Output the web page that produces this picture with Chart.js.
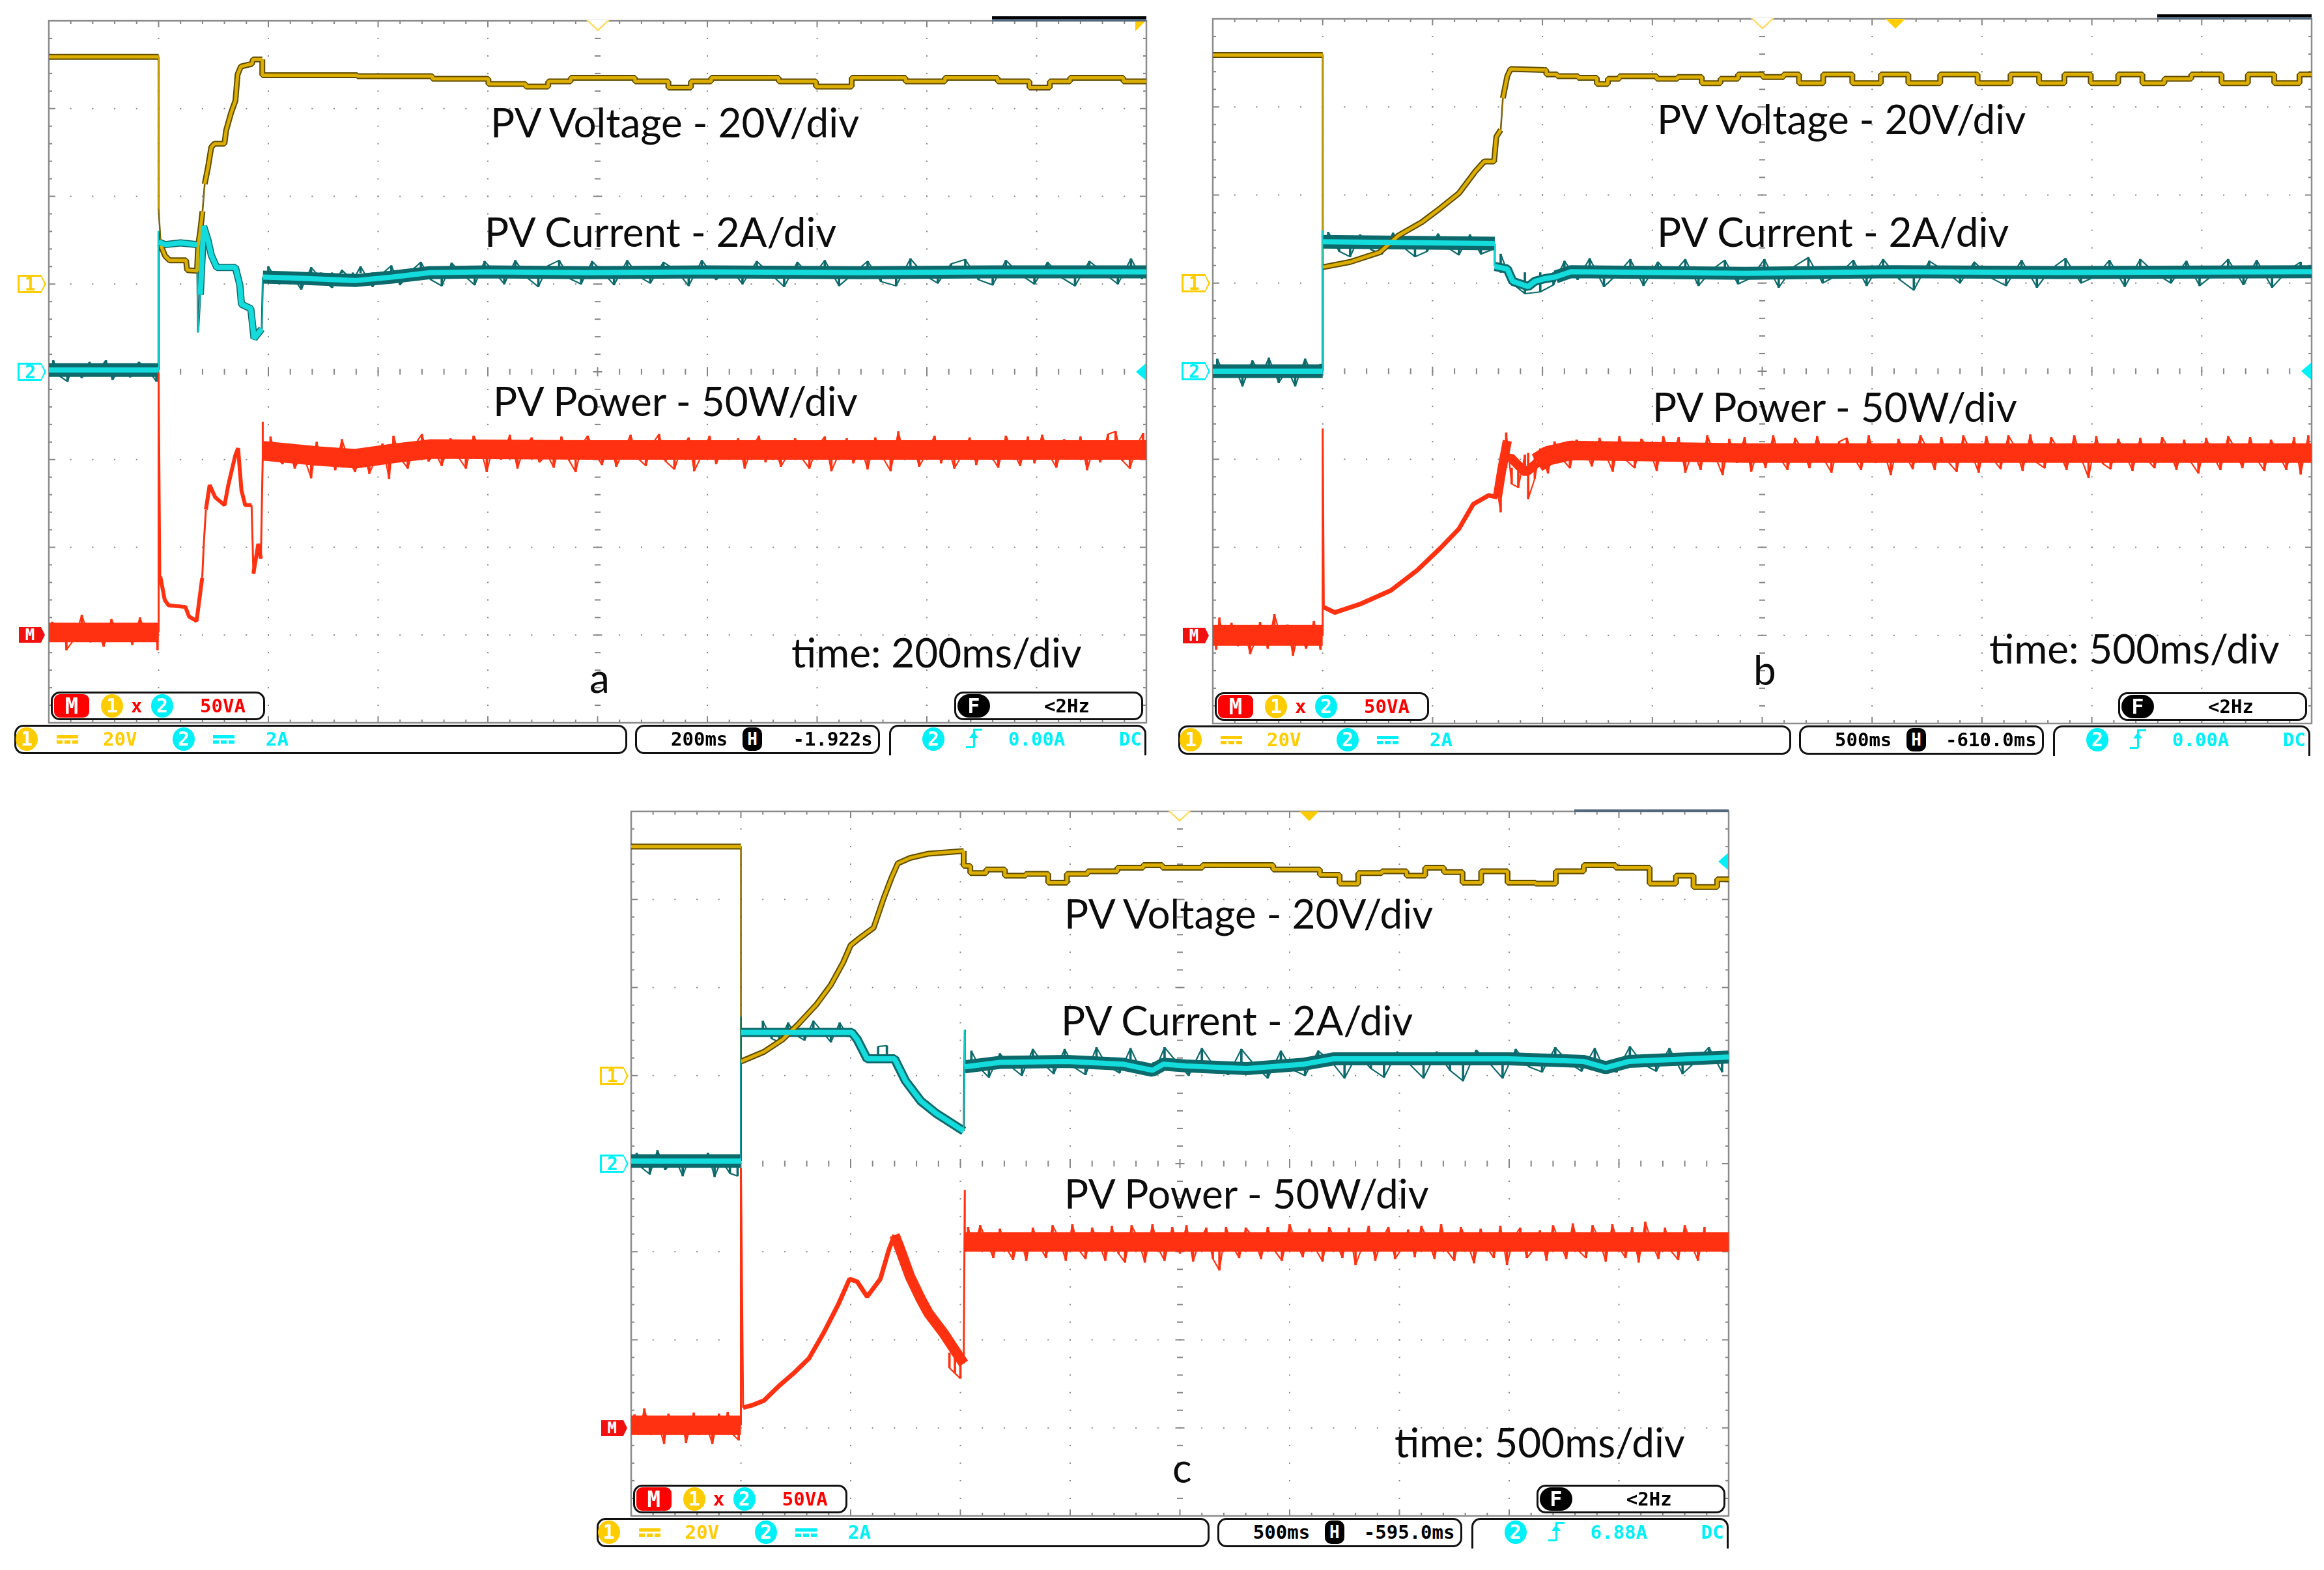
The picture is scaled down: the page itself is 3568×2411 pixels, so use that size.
<!DOCTYPE html>
<html>
<head>
<meta charset="utf-8">
<title>PV start-up waveforms</title>
<script src="https://cdn.jsdelivr.net/npm/chart.js@4/dist/chart.umd.min.js"></script>
<style>
  html, body { margin: 0; background: #fff; }
  #page { position: relative; width: 3568px; height: 2411px; overflow: hidden; background: #fff; }
  canvas { position: absolute; }
  .note { position: absolute; white-space: nowrap; font-family: Lato, sans-serif; font-size: 62px; color: #0c0c0c; transform: translateY(calc(-50% - 2px)); line-height: 1; }
  .scope { position: absolute; white-space: nowrap; font-family: "DejaVu Sans Mono", monospace; font-weight: bold; font-size: 29px; line-height: 1; transform: translateY(-50%); }
  .box { position: absolute; box-sizing: border-box; border: 3px solid #111; border-radius: 14px; background: #fff; }
  .dot { position: absolute; border-radius: 50%; color: #fff; text-align: center; font-family: "DejaVu Sans Mono", monospace; font-weight: bold; font-size: 30px; }
  .tag { position: absolute; box-sizing: border-box; font-family: "DejaVu Sans Mono", monospace; font-weight: bold; font-size: 28px; text-align: center; }
</style>
</head>
<body>
<div id="page"></div>
<script>
// Every trace is in scope divisions: x 0..10 left to right, y 0..8 bottom to top.

// ---- panel a (200ms/div) ----
const aVoltX = [0,1,1,1.02,1.06,1.10,1.25,1.26,1.35,1.36,1.38,1.40,1.42,1.45,1.48,1.51,1.60,1.615,1.66,1.70,1.72,1.75,1.85,1.86,1.945,1.945,2.45,3.17,3.82,4.19,4.5,4.6,4.91,5.19,5.49,5.8,5.9,6.17,6.48,6.82,7.16,7.47,7.77,7.84,8.49,8.8,9.07,9.17,9.44,9.78,9.8,10];
const aVoltY = [7.59,7.59,5.86,5.44,5.32,5.27,5.27,5.16,5.15,5.44,5.61,5.83,6.14,6.33,6.56,6.60,6.60,6.75,6.95,7.09,7.39,7.48,7.51,7.56,7.56,7.38,7.38,7.37,7.34,7.28,7.25,7.31,7.35,7.35,7.31,7.24,7.31,7.35,7.35,7.31,7.25,7.35,7.35,7.31,7.35,7.31,7.24,7.31,7.35,7.35,7.31,7.31];
const aCurrX = [0,1,1,1,1.06,1.20,1.35,1.36,1.38,1.41,1.45,1.48,1.53,1.70,1.74,1.755,1.84,1.87,1.94,1.95,2.2,2.79,3.13,3.47,3.99,4.9,6,7.4,8.6,10];
const aCurrY = [4.02,4.02,5.6,5.48,5.45,5.47,5.45,4.45,4.88,5.66,5.5,5.33,5.19,5.19,4.99,4.77,4.72,4.38,4.49,5.08,5.07,5.04,5.08,5.13,5.14,5.13,5.14,5.13,5.14,5.14];
const aPowerX = [0,1,1,1.015,1.056,1.09,1.244,1.278,1.346,1.373,1.397,1.414,1.431,1.465,1.516,1.601,1.635,1.697,1.724,1.755,1.789,1.847,1.864,1.908,1.932,1.949,1.949,1.949,2.453,2.794,3.134,3.475,4.9,10];
const aPowerY = [1.03,1.03,3.99,1.67,1.40,1.34,1.32,1.21,1.16,1.42,1.65,2.09,2.43,2.71,2.57,2.48,2.71,3.04,3.13,2.65,2.48,2.48,1.70,2.04,1.87,3.04,3.43,3.10,3.04,3.01,3.07,3.12,3.11,3.11];
const aPowerSpikeX = [0.03,0.09,0.14,0.16,0.24,0.3,0.38,0.44,0.5,0.57,0.63,0.7,0.76,0.83,0.9,0.97,0.99,2.02,2.07,2.13,2.18,2.24,2.31,2.39,2.44,2.49,2.56,2.61,2.67,2.73,2.79,2.86,2.92,2.98,3.04,3.1,3.14,3.2,3.27,3.33,3.4,3.46,3.52,3.58,3.66,3.72,3.8,3.87,3.94,3.99,4.06,4.12,4.2,4.27,4.33,4.4,4.47,4.54,4.6,4.67,4.74,4.8,4.86,4.91,4.99,5.04,5.11,5.17,5.23,5.3,5.37,5.44,5.49,5.56,5.62,5.7,5.76,5.83,5.88,5.95,6.02,6.08,6.15,6.21,6.28,6.34,6.4,6.47,6.53,6.6,6.67,6.73,6.8,6.87,6.93,7.0,7.07,7.13,7.2,7.27,7.33,7.4,7.46,7.53,7.6,7.67,7.74,7.8,7.87,7.93,8.0,8.07,8.13,8.19,8.25,8.32,8.39,8.45,8.52,8.58,8.65,8.72,8.78,8.85,8.92,8.98,9.05,9.12,9.18,9.25,9.34,9.4,9.46,9.52,9.58,9.65,9.72,9.78,9.85,9.92,9.97];
const aPowerSpikeTip = [1.15,0.93,1.09,0.83,0.97,1.23,0.92,1.06,0.87,1.18,1.01,1.12,0.89,1.2,0.95,1.08,0.83,3.26,3.02,2.95,3.15,2.9,3.08,2.79,3.2,2.96,3.06,2.88,3.23,3.0,2.86,3.12,2.84,3.01,3.18,2.78,3.27,3.02,2.9,3.16,3.29,2.98,3.08,2.93,3.24,3.05,2.9,3.27,3.1,2.86,3.22,3.0,3.28,2.9,3.14,3.25,2.97,3.06,2.91,3.26,2.99,2.86,3.18,3.27,3.04,2.94,3.21,2.92,3.08,3.28,3.01,2.93,3.16,3.29,2.98,2.89,3.12,3.25,2.87,3.05,3.27,2.95,3.17,3.03,3.24,2.9,3.11,3.27,2.97,3.2,2.92,3.05,3.24,3.0,2.9,3.15,3.26,2.87,3.07,3.24,2.96,3.14,2.89,3.25,3.02,2.87,3.32,3.0,3.2,2.92,3.08,3.27,2.96,3.16,2.9,3.05,3.25,2.94,3.19,3.05,2.91,3.27,3.11,2.93,3.26,2.96,3.28,3.04,2.91,3.23,3.01,3.26,2.88,3.14,2.97,3.29,3.32,2.99,2.9,3.18,3.3,2.95,3.27];

const aCurrSpikeX = [0.04,0.1,0.17,0.22,0.3,0.37,0.44,0.52,0.58,0.66,0.74,0.82,0.9,0.98,2.0,2.1,2.2,2.3,2.39,2.48,2.58,2.67,2.77,2.84,2.95,3.03,3.12,3.2,3.3,3.39,3.48,3.58,3.67,3.78,3.88,3.97,4.06,4.15,4.25,4.35,4.46,4.55,4.65,4.75,4.85,4.95,5.05,5.15,5.27,5.37,5.48,5.6,5.72,5.83,5.95,6.08,6.2,6.32,6.45,6.58,6.7,6.82,6.95,7.07,7.2,7.33,7.46,7.58,7.72,7.85,7.98,8.1,8.22,8.35,8.47,8.6,8.72,8.85,8.98,9.1,9.22,9.35,9.48,9.6,9.74,9.86,9.96];
const aCurrSpikeTip = [4.13,3.95,3.89,4.08,3.93,4.11,4.0,4.13,3.91,4.05,3.94,4.11,4.03,3.89,5.2,5.0,5.12,4.94,5.19,5.06,4.96,5.16,5.04,5.2,4.97,5.11,5.21,4.99,5.15,5.25,5.05,4.98,5.24,5.1,4.99,5.26,5.14,5.0,5.27,5.08,4.97,5.21,5.27,5.06,5.0,5.26,5.13,4.99,5.27,5.09,5.01,5.25,5.15,4.98,5.27,5.05,5.2,5.0,5.26,5.11,4.97,5.25,5.07,5.27,4.98,5.12,5.26,5.03,4.98,5.29,5.1,5.01,5.23,5.28,5.05,4.99,5.27,5.11,5.0,5.25,5.08,4.98,5.26,5.14,5.0,5.29,5.06,5.28,4.99];

// ---- panel b (500ms/div) ----
const bVoltX = [0,1,1,1.25,1.52,1.69,1.90,2.07,2.24,2.39,2.47,2.56,2.58,2.62,2.64,2.68,2.71,3.02,3.05,3.22,3.43,3.56,3.63,3.77,3.97,4.11,4.35,4.55,4.69,4.87,5.14,5.25,5.42,5.69,5.95,6.21,6.45,6.79,7.13,7.39,7.65,7.85,8.13,8.35,8.57,8.75,9.06,9.30,9.54,9.78,10];
const bVoltY = [7.59,7.59,5.18,5.24,5.35,5.54,5.69,5.85,6.02,6.27,6.38,6.38,6.66,6.74,7.10,7.35,7.43,7.42,7.37,7.35,7.33,7.26,7.32,7.35,7.35,7.32,7.34,7.27,7.32,7.37,7.34,7.37,7.27,7.37,7.27,7.37,7.27,7.37,7.27,7.37,7.27,7.37,7.27,7.37,7.27,7.32,7.37,7.27,7.37,7.27,7.37];
const bCurrX = [0,1,1,1,2.566,2.566,2.68,2.73,2.87,2.93,3.02,3.12,3.26,4.85,6.2,7.7,10];
const bCurrY = [4.0,4.0,5.6,5.47,5.45,5.19,5.16,5.02,4.96,5.02,5.05,5.07,5.13,5.11,5.13,5.12,5.13];
const bPowerX = [0,1,1,1.01,1.11,1.35,1.62,1.86,2.07,2.24,2.37,2.51,2.59,2.63,2.68,2.68,2.71,2.78,2.85,2.95,3.05,3.26,4.85,10];
const bPowerY = [1.0,1.0,3.35,1.32,1.26,1.36,1.51,1.74,1.99,2.21,2.49,2.59,2.57,2.88,3.21,3.0,3.02,2.93,2.85,2.96,3.04,3.10,3.07,3.07];
const bPowerSpikeX = [0.03,0.06,0.1,0.17,0.23,0.29,0.34,0.39,0.43,0.5,0.56,0.62,0.68,0.73,0.78,0.85,0.92,0.98,2.58,2.62,2.67,2.72,2.78,2.84,2.87,2.93,2.98,3.05,3.11,3.18,3.25,3.31,3.38,3.45,3.52,3.58,3.64,3.7,3.77,3.84,3.9,3.97,4.04,4.1,4.17,4.24,4.3,4.37,4.44,4.5,4.57,4.64,4.7,4.77,4.84,4.9,4.97,5.03,5.1,5.16,5.23,5.3,5.37,5.43,5.5,5.57,5.63,5.7,5.77,5.83,5.9,5.97,6.03,6.1,6.17,6.24,6.3,6.37,6.44,6.5,6.57,6.63,6.7,6.77,6.83,6.9,6.97,7.04,7.1,7.17,7.24,7.3,7.37,7.44,7.5,7.57,7.63,7.7,7.77,7.84,7.9,7.97,8.04,8.1,8.17,8.24,8.3,8.37,8.44,8.5,8.57,8.64,8.7,8.77,8.84,8.9,8.97,9.04,9.1,9.17,9.24,9.3,9.37,9.44,9.5,9.57,9.63,9.7,9.77,9.84,9.9,9.97];
const bPowerSpikeTip = [0.84,1.2,0.92,1.14,0.88,1.06,0.79,0.95,1.15,0.85,1.24,0.98,1.12,0.77,1.04,0.85,1.16,0.84,2.72,2.4,3.3,2.72,2.68,3.05,2.55,2.78,3.12,2.84,3.2,3.0,2.9,3.22,3.12,2.92,3.24,3.04,2.86,3.26,2.98,2.9,3.23,3.12,2.87,3.26,3.0,3.25,2.85,3.1,2.88,3.27,3.04,2.82,3.23,2.96,3.25,2.86,3.14,2.9,3.27,3.02,2.88,3.24,3.1,2.9,3.26,2.98,2.85,3.2,3.24,3.03,2.88,3.27,2.96,3.13,2.82,3.23,3.05,2.89,3.27,3.12,2.88,3.25,2.96,2.86,3.27,3.08,2.85,3.26,3.0,2.89,3.27,3.14,2.87,3.28,2.96,2.9,3.25,3.1,2.88,3.27,3.02,2.79,3.26,2.95,2.89,3.23,3.07,2.87,3.24,3.0,2.9,3.25,3.12,2.88,3.22,2.97,2.84,3.24,3.05,2.88,3.26,3.13,2.9,3.25,3.0,2.87,3.22,3.06,2.88,3.25,2.83,3.27,3.1,2.89,3.24,2.97,2.88,3.26];

const bCurrSpikeX = [0.04,0.11,0.2,0.27,0.36,0.44,0.51,0.6,0.68,0.75,0.84,0.92,0.98,1.05,1.15,1.25,1.34,1.44,1.54,1.64,1.72,1.84,1.95,2.05,2.14,2.24,2.34,2.44,2.54,2.62,2.72,2.84,2.98,3.1,3.2,3.32,3.43,3.56,3.68,3.8,3.92,4.05,4.17,4.3,4.42,4.55,4.66,4.78,4.9,5.02,5.15,5.28,5.42,5.55,5.7,5.83,5.95,6.1,6.25,6.38,6.52,6.67,6.8,6.93,7.08,7.22,7.36,7.5,7.62,7.76,7.9,8.04,8.16,8.3,8.44,8.58,8.72,8.86,8.98,9.1,9.24,9.38,9.5,9.64,9.78,9.9];
const bCurrSpikeTip = [4.14,3.94,4.05,3.83,4.12,3.95,4.15,3.87,4.02,3.83,4.14,3.93,4.08,5.58,5.36,5.3,5.55,5.38,5.33,5.57,5.42,5.3,5.36,5.56,5.4,5.32,5.55,5.33,5.38,5.33,5.0,4.88,4.9,4.98,5.25,5.04,5.28,4.96,5.1,5.27,4.97,5.24,5.08,5.27,4.97,5.16,5.26,4.99,5.06,5.27,4.95,5.18,5.29,5.0,5.1,5.26,4.97,5.27,5.04,4.92,5.25,5.13,5.0,5.24,5.06,4.97,5.26,4.95,5.15,5.28,5.0,5.08,5.26,4.96,5.27,5.11,5.0,5.25,4.97,5.09,5.27,4.98,5.26,4.95,5.14,5.24,5.0];

// ---- panel c (500ms/div) ----
const cVoltX = [0,1,1,1.02,1.21,1.38,1.52,1.69,1.82,1.93,2.0,2.08,2.21,2.30,2.37,2.43,2.54,2.71,3.03,3.03,3.15,3.32,3.49,3.70,3.90,4.04,4.28,4.58,4.75,4.93,5.48,5.75,5.95,6.19,6.36,6.55,6.70,6.98,7.15,7.32,7.49,7.66,7.83,8.14,8.34,8.51,8.85,9.09,9.47,9.57,9.79,10];
const cVoltY = [7.60,7.60,5.16,5.17,5.27,5.41,5.58,5.81,6.03,6.28,6.48,6.56,6.68,7.01,7.24,7.41,7.47,7.52,7.55,7.38,7.30,7.34,7.27,7.29,7.19,7.29,7.32,7.36,7.39,7.36,7.39,7.39,7.34,7.34,7.28,7.18,7.30,7.32,7.27,7.36,7.31,7.19,7.32,7.19,7.18,7.32,7.39,7.36,7.18,7.27,7.14,7.23];
const cCurrX = [0,1,1,1,2.01,2.06,2.15,2.40,2.50,2.64,2.78,3.03,3.04,3.04,3.36,3.97,4.48,4.75,4.85,5.05,5.61,6.13,6.40,8.0,8.68,8.88,9.09,10];
const cCurrY = [4.03,4.03,5.67,5.49,5.49,5.41,5.19,5.19,4.94,4.71,4.57,4.37,5.52,5.10,5.15,5.16,5.13,5.06,5.13,5.11,5.08,5.13,5.19,5.19,5.16,5.09,5.16,5.21];
const cPowerX = [0,1,1,1.02,1.11,1.21,1.35,1.48,1.62,1.75,1.89,1.99,2.06,2.15,2.27,2.35,2.40,2.45,2.54,2.64,2.71,2.85,2.95,3.03,3.04,3.04,10];
const cPowerY = [1.03,1.03,3.95,1.23,1.26,1.31,1.48,1.62,1.79,2.07,2.41,2.69,2.66,2.49,2.69,3.03,3.19,3.03,2.72,2.46,2.30,2.07,1.88,1.73,3.70,3.11,3.11];
const cPowerSpikeX = [0.03,0.08,0.12,0.18,0.24,0.3,0.34,0.4,0.46,0.5,0.57,0.62,0.68,0.74,0.8,0.84,0.88,0.93,0.98,2.9,2.95,3.0,3.07,3.12,3.18,3.24,3.3,3.36,3.42,3.48,3.54,3.6,3.66,3.72,3.78,3.84,3.9,3.96,4.02,4.08,4.14,4.2,4.26,4.32,4.38,4.44,4.5,4.56,4.62,4.68,4.75,4.8,4.86,4.93,5.0,5.06,5.12,5.18,5.24,5.3,5.36,5.42,5.48,5.54,5.6,5.67,5.74,5.8,5.87,5.93,6.0,6.06,6.12,6.18,6.24,6.3,6.36,6.42,6.48,6.54,6.6,6.66,6.72,6.78,6.84,6.9,6.96,7.02,7.08,7.14,7.2,7.26,7.32,7.38,7.44,7.5,7.56,7.62,7.68,7.74,7.8,7.86,7.92,7.98,8.04,8.1,8.16,8.22,8.28,8.34,8.4,8.46,8.52,8.58,8.64,8.7,8.76,8.82,8.88,8.94,9.0,9.06,9.12,9.18,9.24,9.3,9.36,9.42,9.48,9.54,9.6,9.66,9.72,9.78,9.84,9.9,9.96];
const cPowerSpikeTip = [1.15,0.96,1.22,0.92,1.08,0.82,1.16,0.98,1.11,0.83,1.17,0.92,1.05,0.82,1.16,0.97,1.18,0.92,0.86,1.68,1.62,1.56,3.28,3.02,3.3,3.12,2.93,3.26,3.04,2.91,3.2,2.9,3.27,3.07,2.93,3.3,3.15,2.9,3.31,3.02,2.92,3.27,3.1,2.9,3.29,2.98,2.88,3.3,3.14,2.88,3.31,3.04,2.9,3.28,2.98,3.3,2.89,3.12,3.27,2.92,2.79,3.28,3.06,2.93,3.27,3.16,2.92,3.28,3.0,2.9,3.31,3.1,2.94,3.26,3.02,2.89,3.28,3.12,2.93,3.27,2.85,3.05,3.29,2.9,3.14,3.28,2.92,3.03,3.25,2.94,3.29,3.13,2.92,3.31,3.0,2.9,3.28,3.1,2.87,3.26,3.04,2.93,3.29,2.85,3.16,3.27,2.93,3.02,3.24,2.9,3.3,3.11,2.92,3.32,3.0,2.93,3.3,3.14,2.89,3.31,3.05,2.93,3.28,2.88,3.34,3.1,2.92,3.27,3.0,2.91,3.3,3.08,2.9,3.28];

const cCurrSpikeX = [0.05,0.1,0.17,0.24,0.31,0.4,0.47,0.54,0.62,0.7,0.76,0.82,0.9,0.97,1.2,1.28,1.35,1.43,1.5,1.58,1.66,1.74,1.82,1.9,1.98,2.25,2.33,3.1,3.18,3.26,3.36,3.46,3.56,3.66,3.75,3.85,3.95,4.04,4.14,4.24,4.33,4.45,4.55,4.64,4.76,4.86,4.98,5.08,5.2,5.32,5.44,5.56,5.68,5.8,5.92,6.02,6.14,6.26,6.38,6.5,6.62,6.74,6.86,6.98,7.1,7.22,7.34,7.46,7.58,7.7,7.82,7.94,8.06,8.18,8.3,8.42,8.54,8.66,8.78,8.86,8.98,9.1,9.22,9.34,9.46,9.58,9.7,9.82,9.94];
const cCurrSpikeTip = [4.12,3.95,3.88,4.15,3.93,4.06,3.86,4.1,3.97,4.12,3.85,4.04,3.89,3.86,5.62,5.42,5.38,5.6,5.46,5.4,5.62,5.5,5.38,5.6,5.44,5.33,5.34,5.28,5.08,4.98,5.25,5.1,5.0,5.3,5.14,5.02,5.3,5.09,5.01,5.32,5.12,5.03,5.31,5.07,5.02,5.32,5.14,5.0,5.31,5.09,5.01,5.3,5.12,4.97,5.28,5.07,5.0,5.28,5.16,4.97,5.25,5.08,4.98,5.27,5.12,4.97,5.27,5.06,4.94,5.29,5.14,4.97,5.3,5.1,5.04,5.32,5.15,5.05,5.31,5.09,5.04,5.33,5.13,5.05,5.31,5.02,5.16,5.32,5.04];

// ---- tick and readout labels ----
const scaleLabels = ['20V', '2A', '50VA', '<2Hz'];
const timeBase = ['200ms', '500ms', '500ms'];
const delay = ['-1.922s', '-610.0ms', '-595.0ms'];
const triggerLevel = ['0.00A', '0.00A', '6.88A'];
const noteVoltage = 'PV Voltage - 20V/div';
const noteCurrent = 'PV Current - 2A/div';
const notePower = 'PV Power - 50W/div';
const noteTime = ['time: 200ms/div', 'time: 500ms/div', 'time: 500ms/div'];
const panelNames = ['a', 'b', 'c'];

const GOLD = '#ffcc00', CYAN = '#00f0f8', RED = '#ff0000';
const TRACE_GOLD = '#dcae00', TRACE_GOLD_DARK = '#5e4b00';
const TRACE_CYAN = '#14dcdc', TRACE_TEAL = '#0c6a6c', TRACE_RED = '#ff3110';
const GRID = '#858585';

const page = document.getElementById('page');

// Panel placement and trace thickness per time range, in page pixels
const panels = [
  { left: 75, top: 31.6, width: 1685, height: 1078,
    volt: [aVoltX, aVoltY], curr: [aCurrX, aCurrY], power: [aPowerX, aPowerY],
    powerSpike: [aPowerSpikeX, aPowerSpikeTip], currSpike: [aCurrSpikeX, aCurrSpikeTip],
    powerLevel: [[1, 1.03], [10, 3.11]], currLevel: [[1, 4.02], [10, 5.13]], settle: 1.945,
    powerWidth: [[1, 30], [1.949, 6], [10, 30]], currWidth: [[1, 21], [1.95, 11], [10, 20]],
    notes: [[753, 189], [744, 357], [757, 617], [1215, 1003]], nameAt: [905, 1042],
    solidMark: null, cyanMark: 4, barColor: '#000' },
  { left: 1862, top: 29.3, width: 1687, height: 1081.7,
    volt: [bVoltX, bVoltY], curr: [bCurrX, bCurrY], power: [bPowerX, bPowerY],
    powerSpike: [bPowerSpikeX, bPowerSpikeTip], currSpike: [bCurrSpikeX, bCurrSpikeTip],
    powerLevel: [[1, 1.0], [2.62, 2.57], [2.85, 2.9], [10, 3.07]], currLevel: [[1, 4.0], [2.57, 5.45], [10, 5.12]], settle: 3.02,
    powerWidth: [[1, 32], [2.6, 7], [3, 14], [10, 30]], currWidth: [[1, 21], [2.57, 21], [3.2, 14], [10, 20]],
    notes: [[2544, 184], [2544, 357], [2537, 626], [3054, 997]], nameAt: [2692, 1030],
    solidMark: 6.21, cyanMark: 4, barColor: '#000' },
  { left: 968.8, top: 1245.8, width: 1685.2, height: 1082.2,
    volt: [cVoltX, cVoltY], curr: [cCurrX, cCurrY], power: [cPowerX, cPowerY],
    powerSpike: [cPowerSpikeX, cPowerSpikeTip], currSpike: [cCurrSpikeX, cCurrSpikeTip],
    powerLevel: [[1, 1.03], [3.035, 1.85], [10, 3.11]], currLevel: [[1, 4.03], [2.02, 5.49], [3, 5.19], [10, 5.15]], settle: 3.03,
    powerWidth: [[1, 30], [2.4, 7], [3.03, 16], [10, 30]], currWidth: [[1, 21], [3.03, 14], [10, 20]],
    notes: [[1634, 1404], [1629, 1568], [1634, 1834], [2141, 2216]], nameAt: [1800, 2255],
    solidMark: 6.18, cyanMark: 7.43, barColor: null }
];

function points(xs, ys) { return xs.map((x, i) => ({ x, y: ys[i] })); }

function levelAt(levels, x) {
  for (const r of levels) { if (x <= r[0]) return r[1]; }
  return levels[levels.length - 1][1];
}

// spike runs from the flat level of the trace out to the tip
function spikes(xs, tips, levels) {
  const n = Math.min(xs.length, tips.length);
  return xs.slice(0, n).map((x, i) => ({ x, y: [levelAt(levels, x), tips[i]] }));
}

// same tips joined up as a thin line, broken wherever the trace changes level
function jitter(xs, tips, levels) {
  const out = [];
  const n = Math.min(xs.length, tips.length);
  for (let i = 0; i < n; i++) {
    if (i && (xs[i] - xs[i - 1] > 0.2 || levelAt(levels, xs[i]) !== levelAt(levels, xs[i - 1]))) {
      out.push({ x: xs[i], y: null });
    }
    out.push({ x: xs[i], y: tips[i] });
  }
  return out;
}

// steep jumps stay hairline, the rest takes the width of its time range
function widthByRange(ranges, hairline) {
  return (ctx) => {
    const dx = Math.abs(ctx.p1.parsed.x - ctx.p0.parsed.x);
    const dy = Math.abs(ctx.p1.parsed.y - ctx.p0.parsed.y);
    if (dx < 0.001 || (dx < 0.03 && dy > 0.3)) return hairline;
    for (const r of ranges) { if (ctx.p1.parsed.x <= r[0]) return r[1]; }
    return ranges[ranges.length - 1][1];
  };
}

// Oscilloscope graticule: dotted majors, ticks along the edges and centre axes
const graticule = {
  id: 'graticule',
  beforeDatasetsDraw(chart) {
    const { ctx, chartArea: a, scales: { x, y } } = chart;
    ctx.save();
    ctx.fillStyle = GRID;
    const vTick = (v, py, len) => ctx.fillRect(x.getPixelForValue(v) - 1, py, 2, len);
    const hTick = (v, px, len) => ctx.fillRect(px, y.getPixelForValue(v) - 1, len, 2);
    for (let i = 0; i <= 50; i++) {
      const v = i / 5, major = i % 5 === 0, len = major ? 10 : 5;
      vTick(v, a.top, len);
      vTick(v, a.bottom - len, len);
      vTick(v, y.getPixelForValue(4) - len / 2 - 2, len + 4);
      for (let j = 1; j < 8; j++) {
        if (j !== 4) ctx.fillRect(x.getPixelForValue(v) - 1, y.getPixelForValue(j) - 1, 2, 2);
      }
    }
    for (let j = 0; j <= 40; j++) {
      const v = j / 5, major = j % 5 === 0, len = major ? 10 : 5;
      hTick(v, a.left, len);
      hTick(v, a.right - len, len);
      hTick(v, x.getPixelForValue(5) - len / 2 - 2, len + 4);
      for (let i = 1; i < 10; i++) {
        if (i !== 5) ctx.fillRect(x.getPixelForValue(i) - 1, y.getPixelForValue(v) - 1, 2, 2);
      }
    }
    ctx.strokeStyle = '#8c8c8c';
    ctx.lineWidth = 2.5;
    ctx.strokeRect(a.left, a.top, a.right - a.left, a.bottom - a.top);
    ctx.restore();
  }
};

function drawPanel(p) {
  const pad = 3;
  const canvas = document.createElement('canvas');
  canvas.width = Math.round(p.width + pad * 2);
  canvas.height = Math.round(p.height + pad * 2);
  canvas.style.left = (p.left - pad) + 'px';
  canvas.style.top = (p.top - pad) + 'px';
  page.appendChild(canvas);

  const line = (data, color, width, order, extra) => Object.assign({
    type: 'line', data, borderColor: color, borderWidth: width, pointRadius: 0,
    tension: 0, borderJoinStyle: 'bevel', borderCapStyle: 'butt', order
  }, extra);
  const bar = (data, color, order) => ({
    type: 'bar', data, backgroundColor: color, barThickness: 3, grouped: false, order
  });

  // the voltage sits on a quantised staircase once it has settled
  const voltAll = points(p.volt[0], p.volt[1]);
  const voltRise = voltAll.filter((q) => q.x <= p.settle);
  const voltFlat = voltAll.filter((q) => q.x >= p.settle);

  new Chart(canvas, {
    data: {
      datasets: [
        bar(spikes(p.currSpike[0], p.currSpike[1], p.currLevel), TRACE_TEAL, 12),
        line(jitter(p.currSpike[0], p.currSpike[1], p.currLevel), TRACE_TEAL, 2.2, 11),
        line(points(p.curr[0], p.curr[1]), TRACE_TEAL, 15, 10, { segment: { borderWidth: widthByRange(p.currWidth, 3) } }),
        line(voltRise, TRACE_GOLD_DARK, 9, 9, { segment: { borderWidth: widthByRange([[10, 9]], 2.5) } }),
        line(voltFlat, TRACE_GOLD_DARK, 9, 8, { stepped: 'middle' }),
        line(voltRise, TRACE_GOLD, 5, 7, { segment: { borderWidth: widthByRange([[10, 5]], 0.5) } }),
        line(voltFlat, TRACE_GOLD, 5, 6, { stepped: 'middle' }),
        line(points(p.curr[0], p.curr[1]), TRACE_CYAN, 8, 5, { segment: { borderWidth: widthByRange([[10, 8]], 1) } }),
        bar(spikes(p.powerSpike[0], p.powerSpike[1], p.powerLevel), TRACE_RED, 4),
        line(jitter(p.powerSpike[0], p.powerSpike[1], p.powerLevel), TRACE_RED, 2.2, 3),
        line(points(p.power[0], p.power[1]), TRACE_RED, 20, 2, { segment: { borderWidth: widthByRange(p.powerWidth, 3) } })
      ]
    },
    options: {
      responsive: false,
      animation: false,
      devicePixelRatio: 1,
      layout: { padding: pad },
      plugins: { legend: { display: false }, tooltip: { enabled: false } },
      scales: {
        x: { type: 'linear', min: 0, max: 10, offset: false, display: false },
        y: { type: 'linear', min: 0, max: 8, display: false }
      }
    },
    plugins: [graticule]
  });
}

// ---- scope furniture and captions as real text ----
function el(cls, left, top, css, text) {
  const d = document.createElement('div');
  if (cls) d.className = cls;
  d.style.left = left + 'px';
  d.style.top = top + 'px';
  if (!cls) d.style.position = 'absolute';
  Object.assign(d.style, css || {});
  if (text !== undefined) d.textContent = text;
  page.appendChild(d);
  return d;
}

function disc(cx, cy, color, digit) {
  el('dot', cx - 17, cy - 18, { width: '34px', height: '36px', lineHeight: '36px', background: color }, digit);
}

function couplingMark(x, y, color) {
  el(null, x, y - 6, { width: '33px', height: '5px', background: color });
  for (let i = 0; i < 3; i++) el(null, x + i * 12, y + 2, { width: '9px', height: '5px', background: color });
}

function triangle(x, y, css) {
  el(null, x, y, Object.assign({ width: 0, height: 0, borderStyle: 'solid' }, css));
}

// outlined flag with a pointed right end, as used for the channel markers
function channelTag(L, y, color, digit) {
  el('tag', L - 48, y - 14, { width: '36px', height: '28px', lineHeight: '23px', border: '3px solid ' + color, borderRight: 'none', color }, digit);
  triangle(L - 12, y - 14, { borderWidth: '14px 0 14px 8px', borderColor: 'transparent transparent transparent ' + color });
  triangle(L - 12, y - 11, { borderWidth: '11px 0 11px 5px', borderColor: 'transparent transparent transparent #fff' });
}

function furnish(p, i) {
  const L = p.left, B = p.top + p.height, T = p.top;
  const yAt = (v) => B - v / 8 * p.height;
  const xAt = (v) => L + v / 10 * p.width;

  // channel tags on the left
  channelTag(L, yAt(5), GOLD, '1');
  channelTag(L, yAt(4), CYAN, '2');
  el('tag', L - 46, yAt(1) - 12, { width: '34px', height: '24px', lineHeight: '24px', background: '#f01010', color: '#fff', fontSize: '24px' }, 'M');
  triangle(L - 12, yAt(1) - 12, { borderWidth: '12px 0 12px 6px', borderColor: 'transparent transparent transparent #f01010' });

  // top markers
  triangle(xAt(5) - 18, T - 1, { borderWidth: '17px 18px 0 18px', borderColor: '#ffd84a transparent transparent transparent' });
  triangle(xAt(5) - 15, T - 1, { borderWidth: '14px 15px 0 15px', borderColor: '#fff transparent transparent transparent' });
  if (p.solidMark) triangle(xAt(p.solidMark) - 15, T, { borderWidth: '15px 15px 0 15px', borderColor: GOLD + ' transparent transparent transparent' });
  triangle(L + p.width - 16, yAt(p.cyanMark) - 13, { borderWidth: '13px 15px 13px 0', borderColor: 'transparent ' + CYAN + ' transparent transparent' });
  if (i === 0) triangle(L + p.width - 17, T, { borderWidth: '16px 16px 0 0', borderColor: GOLD + ' transparent transparent transparent' });

  // acquisition bar above the top right of the graticule
  el(null, L + p.width - 237, T - 3, { width: '237px', height: '4px', background: '#53687c' });
  if (p.barColor) el(null, L + p.width - 237, T - 7, { width: '237px', height: '4px', background: p.barColor });

  // math source box
  el('box', L + 3, B - 48, { width: '329px', height: '44px' });
  el('tag', L + 8, B - 44, { width: '54px', height: '36px', lineHeight: '36px', background: RED, color: '#fff', borderRadius: '9px', fontSize: '34px' }, 'M');
  disc(L + 97, B - 26, GOLD, '1');
  el('scope', L + 126, B - 26, { color: RED }, 'x');
  disc(L + 174, B - 26, CYAN, '2');
  el('scope', L + 232, B - 26, { color: RED }, scaleLabels[2]);

  // frequency box
  el('box', L + 1390, B - 48, { width: '290px', height: '44px' });
  el('tag', L + 1395, B - 44, { width: '50px', height: '36px', lineHeight: '36px', background: '#000', color: '#fff', borderRadius: '18px', fontSize: '32px' }, 'F');
  el('scope', L + 1528, B - 26, { color: '#000' }, scaleLabels[3]);

  // readout row under the graticule
  el('box', L - 53, B + 3, { width: '941px', height: '45px' });
  disc(L - 34, B + 25, GOLD, '1');
  couplingMark(L + 12, B + 25, GOLD);
  el('scope', L + 83, B + 25, { color: GOLD }, scaleLabels[0]);
  disc(L + 207, B + 25, CYAN, '2');
  couplingMark(L + 252, B + 25, CYAN);
  el('scope', L + 333, B + 25, { color: CYAN }, scaleLabels[1]);

  el('box', L + 900, B + 3, { width: '376px', height: '45px' });
  el('scope', L + 955, B + 25, { color: '#000' }, timeBase[i]);
  el('tag', L + 1065, B + 7, { width: '30px', height: '36px', lineHeight: '36px', background: '#000', color: '#fff', borderRadius: '10px', fontSize: '26px' }, 'H');
  el('scope', L + 1265 - delay[i].length * 17.5, B + 25, { color: '#000' }, delay[i]);

  el('box', L + 1290, B + 3, { width: '395px', height: '47px', borderBottom: 'none', borderRadius: '14px 14px 0 0' });
  disc(L + 1358, B + 25, CYAN, '2');
  el(null, L + 1419, B + 9, { width: '14px', height: '3px', background: CYAN });
  el(null, L + 1419, B + 9, { width: '3px', height: '29px', background: CYAN });
  el(null, L + 1408, B + 36, { width: '12px', height: '3px', background: CYAN });
  triangle(L + 1413, B + 14, { borderWidth: '0 7px 9px 7px', borderColor: 'transparent transparent ' + CYAN + ' transparent' });
  el('scope', L + 1473, B + 25, { color: CYAN }, triggerLevel[i]);
  el('scope', L + 1643, B + 25, { color: CYAN }, 'DC');

  // captions typed on the figure
  el('note', p.notes[0][0], p.notes[0][1], null, noteVoltage);
  el('note', p.notes[1][0], p.notes[1][1], null, noteCurrent);
  el('note', p.notes[2][0], p.notes[2][1], null, notePower);
  el('note', p.notes[3][0], p.notes[3][1], null, noteTime[i]);
  el('note', p.nameAt[0], p.nameAt[1], null, panelNames[i]);
}

panels.forEach((p, i) => {
  drawPanel(p);
  furnish(p, i);
});
</script>
</body>
</html>
